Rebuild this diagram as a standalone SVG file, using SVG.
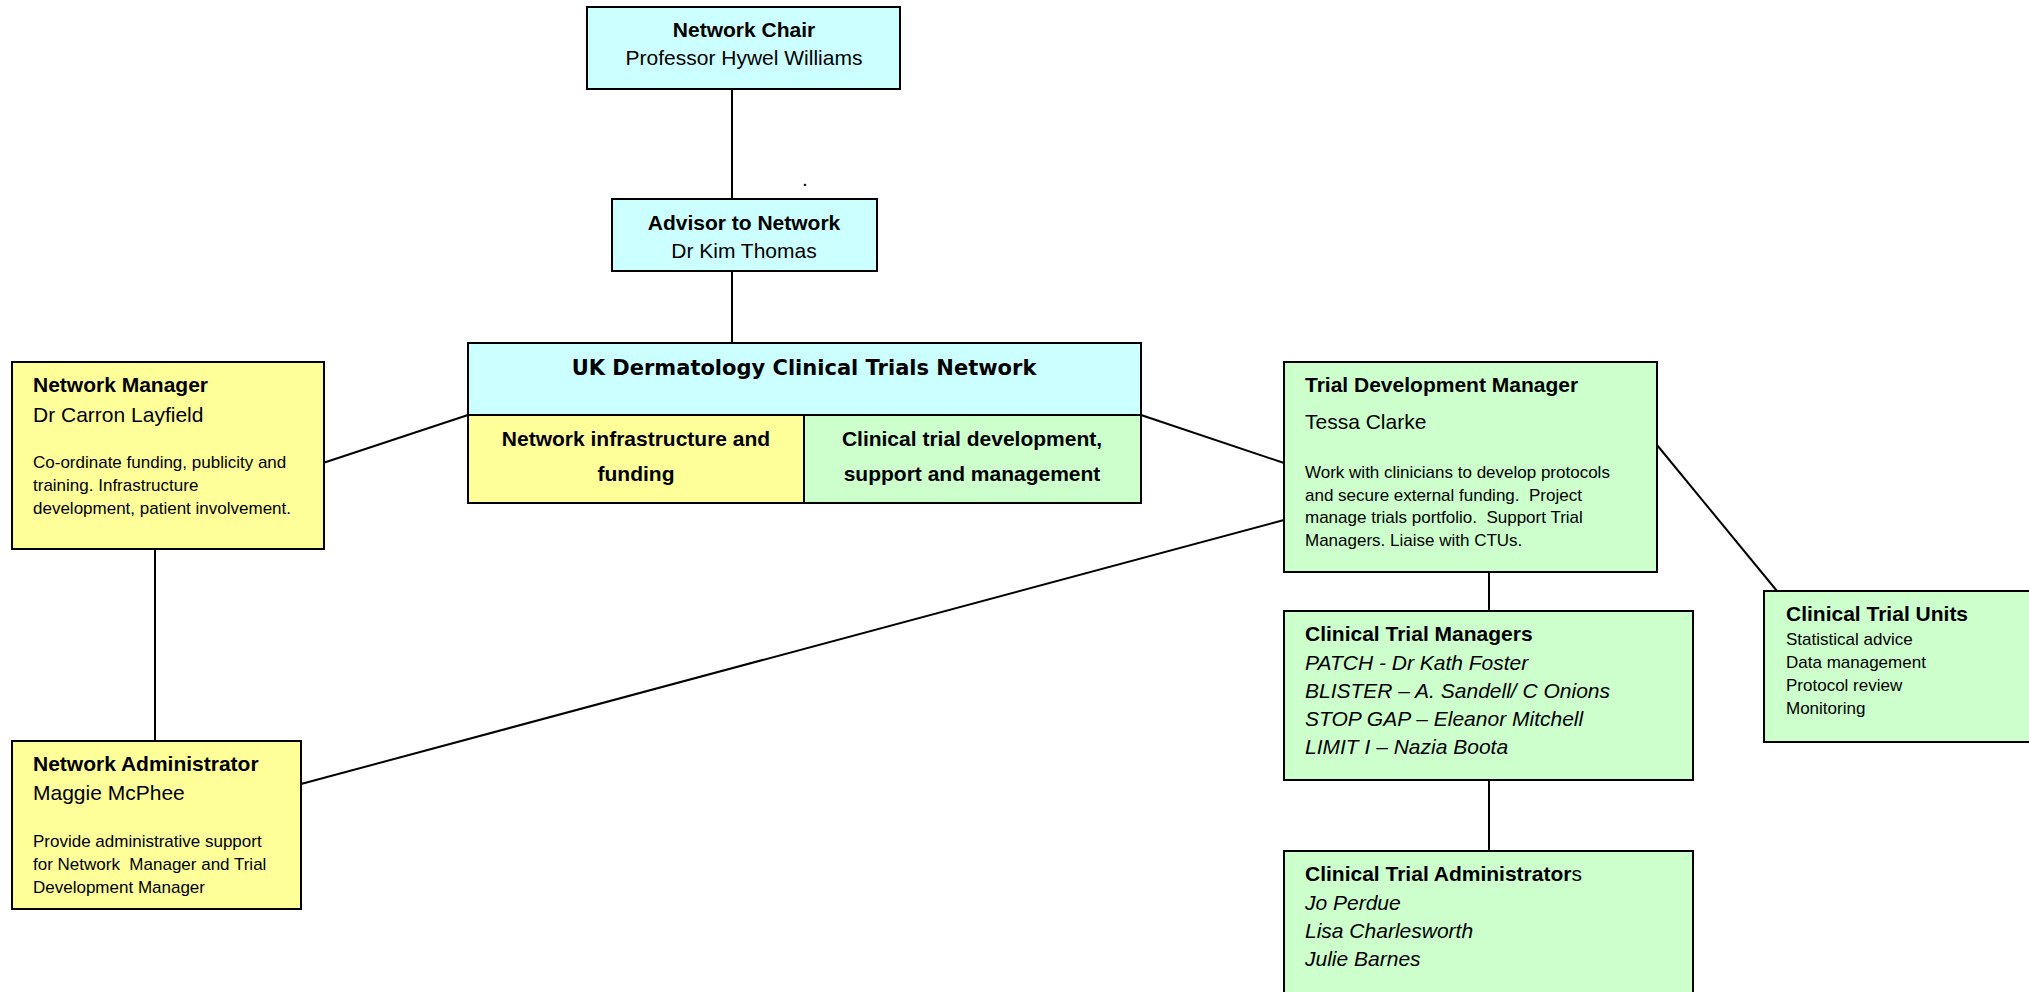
<svg xmlns="http://www.w3.org/2000/svg" width="2029" height="992" viewBox="0 0 2029 992">
<style>
.box{stroke:#000;stroke-width:2}
.cyan{fill:#CCFFFF}
.yel{fill:#FFFF99}
.grn{fill:#CCFFCC}
text{font-family:"Liberation Sans",Arial,sans-serif;fill:#000}
.t{font-size:21px}
.b{font-weight:bold}
.i{font-style:italic}
.s{font-size:17px}
.c{text-anchor:middle}
.v{font-family:"DejaVu Sans",Verdana,sans-serif;font-weight:bold;font-size:21px}
.ln{stroke:#000;stroke-width:2;fill:none}
</style>
<rect width="2029" height="992" fill="#fff"/>
<g id="connectors">
<line class="ln" x1="732" y1="89" x2="732" y2="199"/>
<line class="ln" x1="732" y1="271" x2="732" y2="343"/>
<line class="ln" x1="323" y1="463" x2="468" y2="415"/>
<line class="ln" x1="155" y1="549" x2="155" y2="741"/>
<line class="ln" x1="1141" y1="415" x2="1284" y2="463"/>
<line class="ln" x1="301" y1="784" x2="1284" y2="520"/>
<line class="ln" x1="1657" y1="445" x2="1777" y2="591"/>
<line class="ln" x1="1489" y1="572" x2="1489" y2="611"/>
<line class="ln" x1="1489" y1="780" x2="1489" y2="851"/>
</g>
<g id="chair">
<rect class="box cyan" x="587" y="7" width="313" height="82"/>
<text class="t b c" x="744" y="37">Network Chair</text>
<text class="t c" x="744" y="65">Professor Hywel Williams</text>
</g>
<text class="t" x="802" y="186">.</text>
<g id="advisor">
<rect class="box cyan" x="612" y="199" width="265" height="72"/>
<text class="t b c" x="744" y="230">Advisor to Network</text>
<text class="t c" x="744" y="258">Dr Kim Thomas</text>
</g>
<g id="network">
<rect class="box cyan" x="468" y="343" width="673" height="72"/>
<text class="v c" x="804" y="375">UK Dermatology Clinical Trials Network</text>
</g>
<g id="infrastructure">
<rect class="box yel" x="468" y="415" width="336" height="88"/>
<text class="t b c" x="636" y="446">Network infrastructure and</text>
<text class="t b c" x="636" y="481">funding</text>
</g>
<g id="development">
<rect class="box grn" x="804" y="415" width="337" height="88"/>
<text class="t b c" x="972" y="446">Clinical trial development,</text>
<text class="t b c" x="972" y="481">support and management</text>
</g>
<g id="network-manager">
<rect class="box yel" x="12" y="362" width="312" height="187"/>
<text class="t b" x="33" y="392">Network Manager</text>
<text class="t" x="33" y="422">Dr Carron Layfield</text>
<text class="s" x="33" y="468">Co-ordinate funding, publicity and</text>
<text class="s" x="33" y="491">training. Infrastructure</text>
<text class="s" x="33" y="514">development, patient involvement.</text>
</g>
<g id="network-administrator">
<rect class="box yel" x="12" y="741" width="289" height="168"/>
<text class="t b" x="33" y="771">Network Administrator</text>
<text class="t" x="33" y="800">Maggie McPhee</text>
<text class="s" x="33" y="847">Provide administrative support</text>
<text class="s" x="33" y="870" xml:space="preserve">for Network  Manager and Trial</text>
<text class="s" x="33" y="893">Development Manager</text>
</g>
<g id="trial-development-manager">
<rect class="box grn" x="1284" y="362" width="373" height="210"/>
<text class="t b" x="1305" y="392">Trial Development Manager</text>
<text class="t" x="1305" y="429">Tessa Clarke</text>
<text class="s" x="1305" y="478">Work with clinicians to develop protocols</text>
<text class="s" x="1305" y="501" xml:space="preserve">and secure external funding.  Project</text>
<text class="s" x="1305" y="523" xml:space="preserve">manage trials portfolio.  Support Trial</text>
<text class="s" x="1305" y="546">Managers. Liaise with CTUs.</text>
</g>
<g id="clinical-trial-managers">
<rect class="box grn" x="1284" y="611" width="409" height="169"/>
<text class="t b" x="1305" y="641">Clinical Trial Managers</text>
<text class="t i" x="1305" y="670">PATCH - Dr Kath Foster</text>
<text class="t i" x="1305" y="698">BLISTER – A. Sandell/ C Onions</text>
<text class="t i" x="1305" y="726">STOP GAP – Eleanor Mitchell</text>
<text class="t i" x="1305" y="754">LIMIT I – Nazia Boota</text>
</g>
<g id="clinical-trial-administrators">
<rect class="box grn" x="1284" y="851" width="409" height="160"/>
<text class="t" x="1305" y="881"><tspan class="b">Clinical Trial Administrator</tspan>s</text>
<text class="t i" x="1305" y="910">Jo Perdue</text>
<text class="t i" x="1305" y="938">Lisa Charlesworth</text>
<text class="t i" x="1305" y="966">Julie Barnes</text>
</g>
<g id="clinical-trial-units">
<rect class="box grn" x="1764" y="591" width="280" height="151"/>
<text class="t b" x="1786" y="621">Clinical Trial Units</text>
<text class="s" x="1786" y="645">Statistical advice</text>
<text class="s" x="1786" y="668">Data management</text>
<text class="s" x="1786" y="691">Protocol review</text>
<text class="s" x="1786" y="714">Monitoring</text>
</g>
</svg>
